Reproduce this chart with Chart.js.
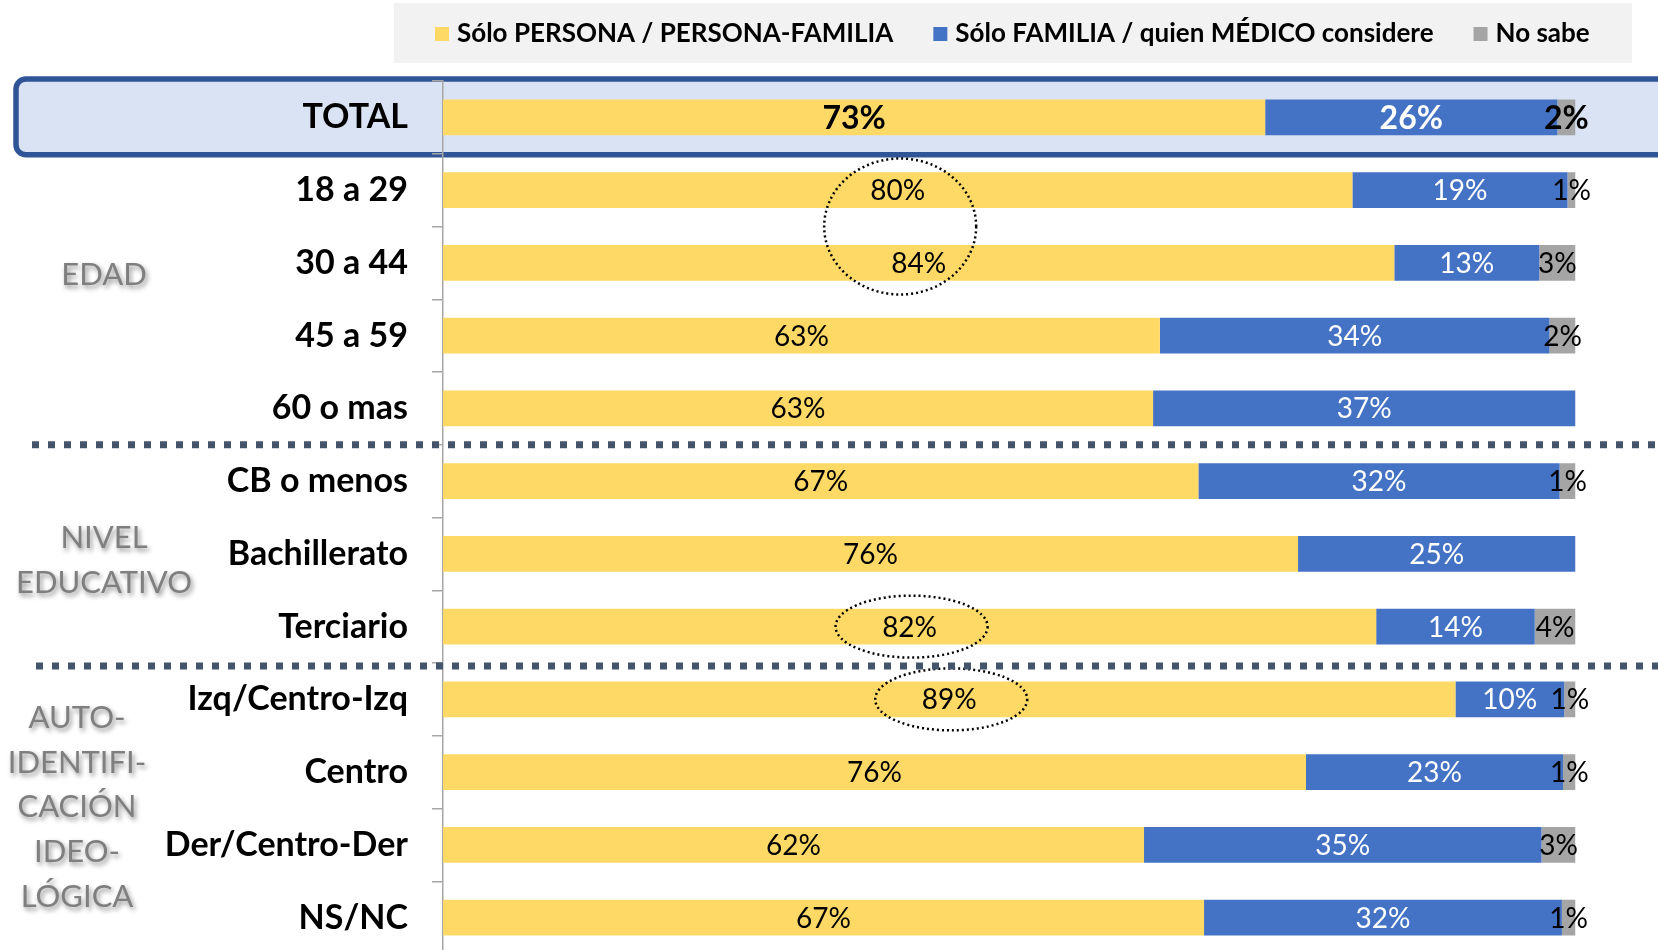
<!DOCTYPE html>
<html>
<head>
<meta charset="utf-8">
<script src="https://cdn.jsdelivr.net/npm/chart.js@4"></script>
<style>
  body { margin: 0; overflow: hidden; background: #fff; }
  #myChart { display: block; }
</style>
</head>
<body>
<canvas id="myChart" width="1658" height="960"></canvas>
<script>
'use strict';

// ******* DATA *******

let categories = ['TOTAL', '18 a 29', '30 a 44', '45 a 59', '60 o mas', 'CB o menos', 'Bachillerato',
  'Terciario', 'Izq/Centro-Izq', 'Centro', 'Der/Centro-Der', 'NS/NC'];
let seriesNames = ['Sólo PERSONA / PERSONA-FAMILIA', 'Sólo FAMILIA / quien MÉDICO considere', 'No sabe'];
let persona = [72.6, 80.3, 84.0, 63.3, 62.7, 66.7, 75.5, 82.4, 89.4, 76.2, 61.9, 67.2];
let familia = [25.8, 19.0, 12.8, 34.4, 37.3, 31.9, 24.5, 14.0, 9.6, 22.7, 35.1, 31.6];
let noSabe = [1.6, 0.7, 3.2, 2.3, 0, 1.4, 0, 3.6, 1.0, 1.1, 3.0, 1.2];

let groupNames = [['EDAD'], ['NIVEL', 'EDUCATIVO'], ['AUTO-', 'IDENTIFI-', 'CACIÓN', 'IDEO-', 'LÓGICA']];
let separatorsAfter = [4, 7];   // dotted line after these rows
let highlightRows = [[1, 2], [7], [8]];


// ******* STYLE *******

let colors = ['#FFD966', '#4472C4', '#A5A5A5'];
let labelColors = ['#000000', '#ffffff', '#000000'];
let groupPos = [{ x: 104, y: 275 }, { x: 104, y: 538 }, { x: 77, y: 718 }];
let fontFam = 'Lato, "Noto Sans", sans-serif';


// ****** HELPERS ******

function rowY(chart, i) {
  return chart.scales.y.getPixelForValue(i);
}

function rowStep(chart) {
  return rowY(chart, 1) - rowY(chart, 0);
}

function roundedRect(ctx, x, y, w, h, r) {
  ctx.beginPath();
  ctx.moveTo(x + r, y);
  ctx.lineTo(x + w - r, y);
  ctx.arcTo(x + w, y, x + w, y + r, r);
  ctx.lineTo(x + w, y + h - r);
  ctx.arcTo(x + w, y + h, x + w - r, y + h, r);
  ctx.lineTo(x + r, y + h);
  ctx.arcTo(x, y + h, x, y + h - r, r);
  ctx.lineTo(x, y + r);
  ctx.arcTo(x, y, x + r, y, r);
  ctx.closePath();
}


// ****** PLUGINS ******

let totalBand = {
  id: 'totalBand',
  beforeDraw(chart) {
    let ctx = chart.ctx;
    let step = rowStep(chart);
    let top = rowY(chart, 0) - step / 2 - 2;
    ctx.save();
    roundedRect(ctx, 16, top, chart.width + 20, step + 3, 10);
    ctx.fillStyle = '#DAE3F3';
    ctx.fill();
    ctx.lineWidth = 5.5;
    ctx.strokeStyle = '#2F5597';
    ctx.stroke();
    ctx.restore();
  }
};

let valueLabels = {
  id: 'valueLabels',
  afterDatasetsDraw(chart) {
    let ctx = chart.ctx;
    ctx.save();
    ctx.textAlign = 'center';
    ctx.textBaseline = 'middle';
    chart.data.datasets.forEach((ds, d) => {
      let meta = chart.getDatasetMeta(d);
      meta.data.forEach((bar, i) => {
        let v = ds.data[i];
        if (!v) return;
        ctx.font = i === 0 ? `bold 32px ${fontFam}` : `28px ${fontFam}`;
        ctx.fillStyle = labelColors[d];
        ctx.fillText(Math.round(v) + '%', (bar.x + bar.base) / 2, bar.y + 1);
      });
    });

    // dotted highlight ellipses
    let meta0 = chart.getDatasetMeta(0);
    ctx.strokeStyle = '#000';
    ctx.lineWidth = 2.5;
    ctx.setLineDash([2, 3]);
    highlightRows.forEach(rows => {
      let xs = rows.map(r => (meta0.data[r].x + meta0.data[r].base) / 2);
      let ys = rows.map(r => meta0.data[r].y);
      let cx = xs.reduce((a, b) => a + b) / xs.length - (rows.length > 1 ? 8 : -2);
      let cy = ys.reduce((a, b) => a + b) / ys.length;
      let ry = rows.length > 1 ? 68 : 31;
      ctx.beginPath();
      ctx.ellipse(cx, cy, 76, ry, 0, 0, Math.PI * 2);
      ctx.stroke();
    });
    ctx.restore();
  }
};

let extras = {
  id: 'extras',
  afterDraw(chart) {
    let ctx = chart.ctx;
    ctx.save();

    // dotted separators
    ctx.strokeStyle = '#44546A';
    ctx.lineWidth = 7;
    ctx.setLineDash([7, 9]);
    separatorsAfter.forEach((r, k) => {
      let y = (rowY(chart, r) + rowY(chart, r + 1)) / 2 + (k === 1 ? 3 : 0);
      ctx.beginPath();
      ctx.moveTo(k === 0 ? 32 : 36, y);
      ctx.lineTo(chart.width, y);
      ctx.stroke();
    });
    ctx.setLineDash([]);

    // group labels
    ctx.font = `31px ${fontFam}`;
    ctx.textAlign = 'center';
    ctx.textBaseline = 'middle';
    ctx.fillStyle = '#7F7F7F';
    ctx.shadowColor = 'rgba(0,0,0,0.45)';
    ctx.shadowBlur = 5;
    ctx.shadowOffsetX = 2;
    ctx.shadowOffsetY = 3;
    groupNames.forEach((lines, g) => {
      lines.forEach((t, j) => {
        ctx.fillText(t, groupPos[g].x, groupPos[g].y + j * 44.7);
      });
    });
    ctx.restore();

    // legend
    ctx.save();
    ctx.fillStyle = '#F2F2F2';
    ctx.fillRect(394, 3, 1238, 60);
    ctx.font = `bold 26px ${fontFam}`;
    ctx.textBaseline = 'middle';
    let x = 435;
    seriesNames.forEach((name, i) => {
      ctx.fillStyle = colors[i];
      ctx.fillRect(x, 27, 14, 14);
      ctx.fillStyle = '#000';
      ctx.fillText(name, x + 22, 34);
      x += 22 + ctx.measureText(name).width + 40;
    });
    ctx.restore();
  }
};


// ****** CHART ******

let ctx = document.getElementById('myChart').getContext('2d');
let myChart = new Chart(ctx, {
  type: 'bar',
  data: {
    labels: categories,
    datasets: [persona, familia, noSabe].map((vals, i) => ({
      label: seriesNames[i],
      data: vals,
      backgroundColor: colors[i],
      borderWidth: 0,
      categoryPercentage: 1,
      barPercentage: 0.49
    }))
  },
  plugins: [totalBand, valueLabels, extras],
  options: {
    indexAxis: 'y',
    responsive: false,
    animation: false,
    layout: { padding: { top: 81, bottom: 6, left: 0, right: 82.5 } },
    plugins: {
      legend: { display: false },
      tooltip: { enabled: false }
    },
    scales: {
      x: { stacked: true, min: 0, max: 100, display: false },
      y: {
        stacked: true,
        afterFit(scale) {
          scale.width = 443;
          scale.paddingTop = 0;
          scale.paddingBottom = 0;
        },
        grid: { drawOnChartArea: false, offset: true, tickLength: 11, color: '#A6A6A6', lineWidth: 1.5 },
        border: { color: '#A6A6A6', width: 1.5 },
        ticks: { color: '#000', padding: 24, font: { family: fontFam, size: 34, weight: 'bold' } }
      }
    }
  }
});
</script>
</body>
</html>
